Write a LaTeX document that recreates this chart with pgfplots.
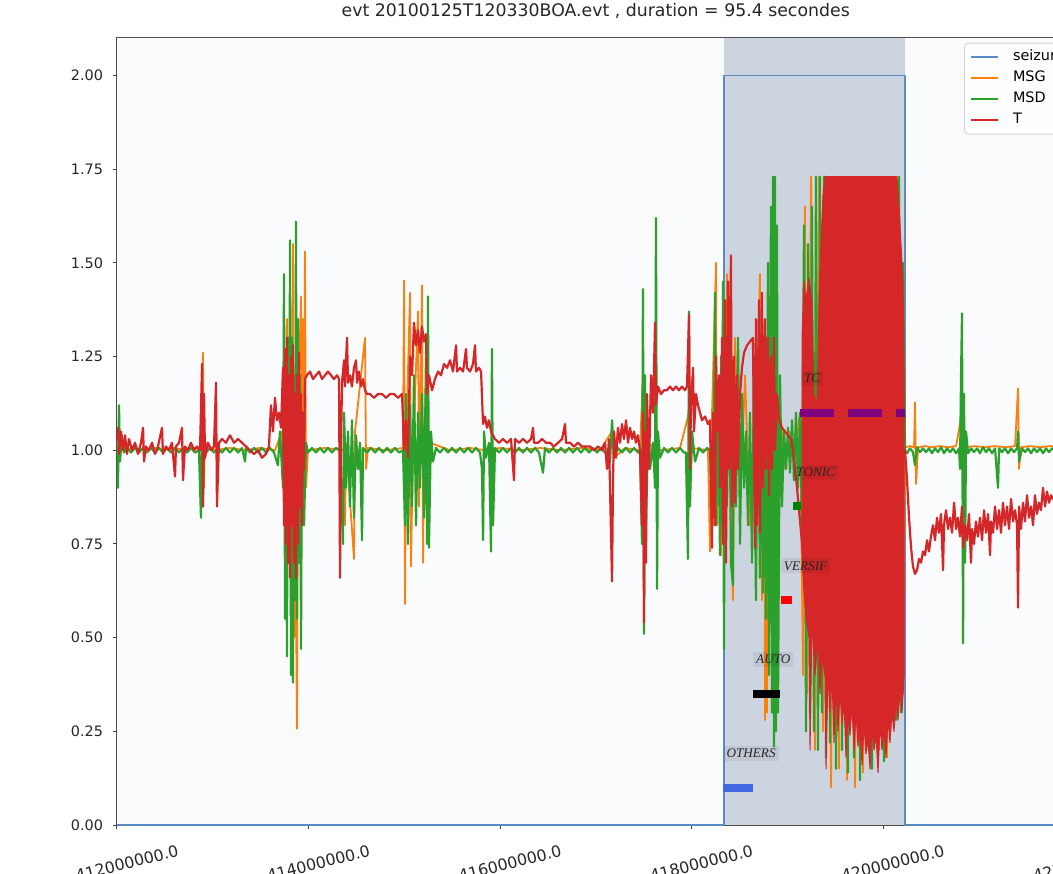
\documentclass[border=0pt]{standalone}
\usepackage{fontspec}
\setmainfont{DejaVu Sans}
\newfontfamily\labfont{Liberation Serif}
\usepackage{pgfplots}
\usepackage{pgfplotstable}
\pgfplotsset{compat=1.18}
\definecolor{tblue}{RGB}{90,140,195}
\definecolor{tshade}{RGB}{204,212,224}
\definecolor{tbg}{RGB}{250,251,253}
\definecolor{torange}{RGB}{255,127,14}
\definecolor{tgreen}{RGB}{44,160,44}
\definecolor{tred}{RGB}{214,39,40}
\definecolor{royal}{RGB}{65,105,225}
\definecolor{vred}{RGB}{255,0,0}
\definecolor{dgreen}{RGB}{0,128,0}
\definecolor{purp}{RGB}{128,0,128}
\begin{document}
\pgfplotstableread{
x y
412.000 1.03
412.010 1.06
412.021 0.99
412.042 1.05
412.063 1.00
412.084 1.04
412.104 0.99
412.125 1.03
412.157 1.00
412.188 1.02
412.219 0.99
412.251 1.02
412.272 1.06
412.282 0.97
412.303 1.01
412.334 1.00
412.366 1.02
412.397 0.99
412.428 1.01
412.470 1.06
412.480 0.99
412.512 1.01
412.543 1.00
412.574 1.02
412.606 0.93
412.616 1.01
412.648 1.02
412.679 1.06
412.689 0.92
412.710 1.01
412.742 1.00
412.773 1.02
412.804 1.00
412.836 1.01
412.867 1.00
412.888 1.23
412.898 0.85
412.909 1.15
412.919 0.98
412.950 1.02
412.982 1.00
413.013 1.01
413.034 1.18
413.044 0.85
413.065 1.02
413.097 1.03
413.138 1.02
413.180 1.04
413.222 1.02
413.264 1.03
413.306 1.02
413.347 1.01
413.389 1.00
413.431 0.99
413.473 1.00
413.514 0.98
413.556 0.99
413.587 1.01
413.608 1.12
413.629 1.05
413.650 1.14
413.671 1.08
413.692 1.10
413.713 1.06
413.734 1.22
413.744 0.80
413.755 1.27
413.765 0.75
413.775 1.30
413.786 0.70
413.796 1.20
413.807 0.66
413.817 1.25
413.828 0.80
413.838 1.28
413.849 0.70
413.859 1.15
413.869 0.66
413.880 1.20
413.890 0.75
413.901 1.26
413.911 0.85
413.922 1.15
413.932 0.80
413.943 1.10
413.953 0.95
413.963 1.19
413.984 1.20
414.016 1.21
414.047 1.19
414.078 1.20
414.110 1.21
414.141 1.19
414.172 1.20
414.204 1.21
414.235 1.20
414.266 1.19
414.298 1.20
414.319 1.19
414.329 0.66
414.340 1.02
414.350 1.18
414.371 1.24
414.381 1.17
414.402 1.30
414.413 1.18
414.433 1.20
414.454 1.17
414.475 1.22
414.496 1.24
414.507 1.18
414.527 1.21
414.548 1.17
414.569 1.19
414.590 1.16
414.611 1.15
414.642 1.15
414.684 1.14
414.726 1.15
414.768 1.15
414.809 1.14
414.851 1.15
414.893 1.15
414.935 1.14
414.977 1.15
414.998 1.00
415.018 1.08
415.039 0.98
415.060 1.25
415.081 1.20
415.102 1.34
415.123 1.28
415.144 1.32
415.164 1.26
415.185 1.33
415.206 1.29
415.227 1.31
415.238 1.15
415.258 1.20
415.290 1.16
415.321 1.19
415.353 1.21
415.384 1.20
415.415 1.23
415.447 1.22
415.478 1.24
415.509 1.21
415.541 1.28
415.551 1.21
415.582 1.22
415.614 1.21
415.645 1.27
415.655 1.22
415.687 1.21
415.718 1.23
415.739 1.28
415.749 1.21
415.781 1.22
415.802 1.21
415.823 1.07
415.843 1.09
415.864 1.06
415.885 1.08
415.906 1.05
415.927 1.04
415.948 1.03
415.990 1.02
416.031 1.03
416.073 1.02
416.115 1.03
416.146 0.92
416.157 1.03
416.198 1.02
416.240 1.03
416.282 1.02
416.324 1.03
416.345 1.06
416.355 1.02
416.397 1.02
416.439 1.03
416.480 1.02
416.522 1.02
416.564 1.01
416.606 1.02
416.648 1.03
416.679 1.07
416.689 1.02
416.731 1.02
416.773 1.01
416.815 1.02
416.856 1.01
416.898 1.01
416.940 1.01
416.982 1.00
417.024 1.01
417.065 1.00
417.097 1.02
417.117 0.95
417.138 1.03
417.159 0.78
417.170 0.65
417.180 0.92
417.191 1.05
417.211 0.98
417.232 1.06
417.253 1.02
417.274 1.07
417.295 1.03
417.316 1.08
417.337 1.02
417.358 1.06
417.379 1.03
417.400 1.05
417.420 1.02
417.441 1.04
417.462 1.00
417.483 0.80
417.493 1.10
417.504 0.54
417.514 1.05
417.525 0.70
417.535 1.15
417.556 0.95
417.577 1.20
417.598 1.10
417.619 1.34
417.629 1.12
417.650 1.17
417.682 1.15
417.713 1.16
417.744 1.16
417.775 1.17
417.807 1.16
417.838 1.17
417.869 1.16
417.901 1.17
417.932 1.16
417.953 1.17
417.974 1.36
417.984 0.95
417.995 1.12
418.016 1.22
418.026 1.05
418.047 1.15
418.068 1.12
418.089 1.10
418.110 1.08
418.141 1.09
418.172 1.07
418.193 1.08
418.214 0.74
418.225 1.10
418.245 0.80
418.256 1.25
418.266 1.05
418.287 1.20
418.298 0.90
418.319 1.30
418.329 0.75
418.350 1.40
418.360 0.70
418.381 1.45
418.392 0.95
418.412 1.52
418.423 0.85
418.444 1.25
418.454 0.86
418.475 1.20
418.486 0.95
418.507 1.15
418.527 1.22
418.548 1.26
418.580 1.28
418.611 1.29
418.642 1.30
418.663 0.74
418.673 1.35
418.684 0.80
418.705 1.40
418.715 0.78
418.736 1.42
418.747 0.90
418.768 1.35
418.778 0.95
418.799 1.30
418.809 0.88
418.830 1.25
418.841 0.95
418.862 1.30
418.872 1.00
418.893 1.15
418.914 1.08
418.945 1.06
418.977 1.05
419.008 1.04
419.039 1.03
419.060 1.00
419.081 0.95
419.102 0.90
419.123 0.84
419.144 0.78
419.165 0.72
420.230 1.00
420.251 0.92
420.272 0.82
420.293 0.74
420.313 0.69
420.334 0.67
420.355 0.68
420.376 0.71
420.397 0.70
420.418 0.73
420.439 0.72
420.460 0.76
420.480 0.73
420.501 0.77
420.522 0.80
420.543 0.76
420.564 0.82
420.585 0.78
420.606 0.83
420.627 0.68
420.637 0.80
420.658 0.84
420.679 0.79
420.700 0.82
420.721 0.78
420.742 0.86
420.763 0.79
420.783 0.82
420.804 0.77
420.825 0.85
420.836 0.74
420.857 0.80
420.877 0.76
420.898 0.83
420.919 0.70
420.930 0.79
420.950 0.75
420.971 0.81
420.992 0.77
421.013 0.82
421.034 0.76
421.055 0.84
421.076 0.78
421.097 0.83
421.118 0.72
421.128 0.81
421.149 0.78
421.170 0.85
421.191 0.79
421.212 0.84
421.232 0.78
421.253 0.86
421.274 0.80
421.295 0.85
421.316 0.79
421.337 0.87
421.358 0.81
421.379 0.84
421.400 0.80
421.410 0.58
421.421 0.85
421.441 0.79
421.462 0.86
421.483 0.81
421.504 0.88
421.525 0.82
421.546 0.85
421.567 0.80
421.587 0.88
421.608 0.83
421.629 0.86
421.650 0.84
421.671 0.90
421.692 0.85
421.713 0.89
421.734 0.86
421.755 0.88
421.776 0.87
421.849 0.89
421.953 0.88
421.995 0.89
}\Tdata
\pgfplotstableread{
x y
419.154 0.72
419.154 1.30
419.175 1.45
419.196 1.40
419.227 1.46
419.258 1.40
419.279 1.15
419.311 1.12
419.332 1.40
419.352 1.55
419.373 1.68
419.394 1.73
420.146 1.73
420.167 1.65
420.188 1.55
420.209 1.45
420.220 1.20
420.220 0.40
420.199 0.30
420.178 0.36
420.157 0.28
420.136 0.33
420.115 0.25
420.094 0.30
420.073 0.22
420.052 0.28
420.031 0.18
420.010 0.26
419.990 0.20
419.969 0.27
419.948 0.14
419.927 0.24
419.906 0.20
419.885 0.26
419.864 0.15
419.843 0.23
419.822 0.19
419.802 0.27
419.781 0.16
419.760 0.25
419.739 0.21
419.718 0.30
419.697 0.20
419.676 0.32
419.655 0.24
419.634 0.30
419.614 0.18
419.593 0.33
419.572 0.27
419.551 0.36
419.530 0.25
419.509 0.38
419.488 0.22
419.467 0.40
419.446 0.30
419.426 0.42
419.405 0.15
419.394 0.40
419.363 0.45
419.342 0.35
419.321 0.50
419.290 0.40
419.258 0.55
419.238 0.20
419.227 0.50
419.196 0.55
419.175 0.62
419.154 0.72
}\Tblock
\pgfplotstableread{
x y
412.000 1.00
412.010 0.90
412.021 1.12
412.031 0.97
412.052 1.04
412.073 0.994
412.104 1.006
412.146 0.994
412.188 1.006
412.230 0.994
412.272 1.006
412.313 0.994
412.355 1.006
412.397 0.994
412.439 1.006
412.480 0.994
412.522 1.006
412.564 0.994
412.606 1.006
412.648 0.994
412.689 1.006
412.731 0.994
412.773 1.006
412.815 0.994
412.856 1.00
412.877 0.82
412.888 1.10
412.898 0.85
412.909 1.05
412.930 0.994
412.971 1.006
413.013 0.994
413.055 1.006
413.097 0.994
413.138 1.006
413.180 0.994
413.222 1.006
413.264 0.994
413.306 1.006
413.337 0.97
413.347 1.006
413.389 0.994
413.431 1.006
413.473 0.994
413.514 1.006
413.556 0.994
413.598 1.006
413.640 0.994
413.681 0.96
413.702 1.05
413.734 0.90
413.744 1.47
413.755 0.55
413.765 1.25
413.775 0.45
413.786 1.30
413.796 0.70
413.807 1.56
413.817 0.40
413.828 1.30
413.838 0.38
413.849 1.20
413.859 0.60
413.869 1.61
413.880 0.55
413.890 1.35
413.901 0.70
413.911 1.20
413.922 0.47
413.932 1.10
413.953 0.80
413.974 1.02
413.995 0.994
414.037 1.006
414.078 0.994
414.120 1.006
414.162 0.994
414.204 1.006
414.245 0.994
414.287 1.006
414.329 1.00
414.360 0.75
414.371 1.10
414.392 0.90
414.413 1.05
414.433 0.85
414.454 1.08
414.475 0.82
414.496 1.04
414.517 0.95
414.538 1.02
414.559 0.76
414.569 1.006
414.611 0.994
414.653 1.006
414.695 0.994
414.736 1.006
414.778 0.994
414.820 1.006
414.862 0.994
414.903 1.006
414.945 0.994
414.987 1.00
415.008 0.80
415.018 1.15
415.039 0.75
415.060 1.12
415.081 0.85
415.102 1.20
415.123 0.80
415.144 1.10
415.164 0.90
415.185 1.15
415.206 0.82
415.227 1.25
415.238 0.75
415.248 1.41
415.258 0.74
415.279 1.05
415.300 0.97
415.332 1.006
415.373 0.994
415.415 1.006
415.457 0.994
415.499 1.006
415.541 0.994
415.582 1.006
415.624 0.994
415.666 1.006
415.708 0.994
415.749 1.006
415.791 0.994
415.812 0.95
415.823 0.76
415.833 1.05
415.854 0.98
415.885 1.02
415.906 0.73
415.916 1.27
415.927 0.80
415.948 1.006
415.990 0.994
416.031 1.006
416.073 0.994
416.115 1.006
416.157 0.994
416.198 1.006
416.240 0.994
416.282 1.006
416.324 0.994
416.366 1.006
416.407 0.994
416.449 0.94
416.470 1.006
416.512 0.994
416.554 1.006
416.595 0.994
416.637 1.006
416.679 0.994
416.721 1.006
416.762 0.994
416.804 1.006
416.846 0.994
416.888 1.006
416.930 0.994
416.971 1.006
417.013 0.994
417.055 1.006
417.097 0.994
417.149 0.97
417.170 1.08
417.191 0.98
417.232 1.006
417.274 0.994
417.316 1.006
417.358 0.994
417.400 1.006
417.441 0.994
417.462 1.00
417.483 0.75
417.493 1.43
417.504 0.51
417.514 1.20
417.525 0.80
417.546 1.05
417.567 0.95
417.598 1.02
417.619 0.90
417.629 1.62
417.640 0.63
417.650 1.05
417.671 0.98
417.713 1.006
417.754 0.994
417.796 1.006
417.838 0.994
417.880 1.006
417.921 0.994
417.942 0.994
417.963 0.71
417.974 1.37
417.984 0.85
418.005 1.05
418.037 0.97
418.078 1.006
418.120 0.994
418.162 1.006
418.193 1.00
418.214 0.80
418.235 1.05
418.245 1.42
418.256 0.80
418.277 1.10
418.298 0.72
418.308 1.25
418.319 0.80
418.329 1.45
418.339 0.47
418.350 1.20
418.371 0.85
418.392 1.30
418.412 0.70
418.433 0.64
418.444 1.20
418.465 0.85
418.486 1.30
418.507 0.75
418.527 1.15
418.548 0.90
418.569 1.05
418.590 0.80
418.611 1.10
418.632 0.70
418.653 1.25
418.673 0.60
418.694 1.20
418.715 0.66
418.736 1.35
418.747 0.62
418.768 1.30
418.778 0.55
418.799 1.50
418.809 0.40
418.830 1.65
418.841 0.30
418.851 1.73
418.862 0.21
418.872 1.73
418.882 0.25
418.893 1.60
418.903 0.30
418.924 1.20
418.945 0.85
418.966 1.05
418.987 0.95
419.008 1.06
419.029 0.94
419.050 1.08
419.070 0.92
419.091 1.10
419.112 0.90
419.133 1.10
419.154 0.80
419.175 1.60
419.196 0.25
419.217 1.55
419.238 0.30
419.258 1.65
419.279 0.25
419.300 1.73
419.321 0.20
419.342 1.73
419.363 0.30
419.384 1.73
419.405 0.18
419.426 1.70
419.446 0.22
419.478 1.73
419.509 0.15
419.540 1.73
419.572 0.20
419.603 1.70
419.634 0.14
419.666 1.73
419.697 0.18
419.728 1.73
419.760 0.12
419.791 1.73
419.822 0.20
419.854 1.65
419.885 0.15
419.916 1.73
419.948 0.22
419.979 1.73
420.010 0.17
420.042 1.70
420.073 0.25
420.104 1.73
420.136 0.28
420.167 1.73
420.188 0.30
420.209 1.50
420.230 1.00
420.251 0.992
420.282 1.005
420.313 0.995
420.334 0.96
420.355 1.008
420.386 0.995
420.418 1.005
420.449 0.995
420.480 1.005
420.512 0.992
420.543 1.005
420.574 0.995
420.606 1.008
420.637 0.992
420.668 1.005
420.700 0.995
420.731 1.005
420.763 0.992
420.794 1.005
420.804 0.95
420.815 1.20
420.825 1.365
420.836 0.485
420.846 1.15
420.857 0.70
420.867 1.05
420.888 0.992
420.919 1.005
420.950 0.995
420.982 1.005
421.013 0.992
421.044 1.008
421.076 0.995
421.107 1.005
421.139 0.992
421.170 1.005
421.201 0.90
421.212 1.005
421.243 0.995
421.274 1.005
421.306 0.992
421.337 1.005
421.368 0.995
421.400 1.005
421.410 1.05
421.421 0.97
421.452 1.005
421.483 0.995
421.515 1.005
421.546 0.992
421.577 1.005
421.608 0.995
421.640 1.005
421.671 0.992
421.702 1.005
421.734 0.995
421.765 1.005
421.849 0.995
421.995 1.00
}\Gdata
\pgfplotstableread{
x y
412.000 1.01
412.021 0.97
412.042 1.04
412.084 1.00
412.188 1.006
412.292 1.00
412.397 1.006
412.501 1.00
412.606 1.006
412.710 1.00
412.815 1.006
412.877 1.00
412.898 1.26
412.909 0.90
412.919 1.02
413.023 1.00
413.180 1.006
413.337 1.00
413.494 1.006
413.650 1.00
413.723 1.05
413.755 0.80
413.775 1.35
413.796 0.75
413.807 1.45
413.817 0.60
413.838 1.55
413.849 0.50
413.869 0.60
413.880 0.257
413.890 1.10
413.922 1.41
413.932 0.80
413.943 1.35
413.953 0.85
413.963 1.53
413.974 0.90
413.995 1.00
414.172 1.006
414.371 1.00
414.381 0.80
414.392 1.02
414.475 0.71
414.486 1.05
414.590 1.30
414.601 0.95
414.622 1.006
414.799 1.00
414.987 1.006
414.998 1.453
415.008 0.59
415.018 1.00
415.060 1.42
415.070 0.69
415.091 1.00
415.144 1.37
415.154 0.85
415.185 1.44
415.196 0.70
415.206 1.00
415.238 1.30
415.248 0.80
415.269 1.02
415.478 1.00
415.687 1.006
415.843 1.00
416.000 1.006
416.209 1.00
416.418 1.006
416.627 1.00
416.836 1.006
417.044 1.00
417.170 1.05
417.191 0.98
417.305 1.006
417.462 1.00
417.493 1.20
417.504 0.70
417.525 1.02
417.671 1.00
417.880 1.006
417.974 1.10
417.984 0.90
418.005 1.006
418.172 1.00
418.193 0.73
418.204 1.00
418.256 1.50
418.266 0.80
418.287 1.10
418.308 0.72
418.329 1.40
418.350 0.85
418.371 1.47
418.402 1.20
418.433 0.60
418.454 1.30
418.507 0.85
418.559 1.20
418.611 0.80
418.684 1.10
418.715 1.47
418.736 0.60
418.757 1.30
418.768 0.28
418.778 1.20
418.789 0.30
418.799 1.30
418.820 0.60
418.841 1.40
418.862 0.70
418.882 1.60
418.903 0.80
418.924 1.10
418.977 0.95
419.029 1.05
419.081 1.00
419.133 1.10
419.165 0.40
419.185 1.65
419.206 0.35
419.248 1.73
419.290 0.20
419.332 1.73
419.373 0.25
419.415 1.73
419.457 0.10
419.499 1.73
419.540 0.15
419.582 1.73
419.624 0.12
419.666 1.73
419.708 0.10
419.749 1.73
419.791 0.14
419.833 1.73
419.875 0.15
419.916 1.73
419.958 0.20
420.000 1.73
420.042 0.18
420.084 1.73
420.125 0.30
420.167 1.73
420.209 0.35
420.230 1.008
420.282 1.011
420.324 1.007
420.334 1.128
420.345 0.91
420.366 1.008
420.439 1.011
420.512 1.008
420.595 1.011
420.679 1.008
420.763 1.011
420.825 1.10
420.836 0.95
420.857 1.008
420.961 1.011
421.065 1.008
421.170 1.011
421.274 1.008
421.379 1.011
421.410 1.165
421.421 0.95
421.441 1.008
421.535 1.011
421.640 1.008
421.744 1.011
421.995 1.008
}\Odata
\begin{tikzpicture}
\begin{axis}[
  scale only axis,
  width=478.75pt, height=393.5pt,
  xmin=412, xmax=422, ymin=0, ymax=2.1,
  axis background/.style={fill=tbg},
  xtick={412,414,416,418,420,422},
  xticklabels={412000000.0,414000000.0,416000000.0,418000000.0,420000000.0,422000000.0},
  ytick={0,0.25,0.5,0.75,1,1.25,1.5,1.75,2},
  yticklabels={0.00,0.25,0.50,0.75,1.00,1.25,1.50,1.75,2.00},
  /pgf/number format/assume math mode=true,
  tick pos=left,
  tick align=outside,
  major tick length=2pt,
  tick style={black!75, line width=0.5pt},
  axis line style={black!70, line width=0.5pt},
  ticklabel style={font=\fontsize{7.2}{8.6}\selectfont, text=black!85},
  xticklabel style={font=\fontsize{7.9}{9}\selectfont, rotate=14, anchor=center, xshift=0.65pt, yshift=-17.8pt},
  yticklabel style={xshift=-1.5pt},
  title={evt 20100125T120330BOA.evt , duration = 95.4 secondes},
  title style={font=\fontsize{8.66}{10}\selectfont, text=black!85, at={(0.5,1)}, anchor=base, yshift=4.5pt},
  legend image code/.code={\draw[#1, line width=0.8pt] (0pt,0pt) -- (13.5pt,0pt);},
  legend cell align=left,
  legend style={at={(0.8846,0.994)}, anchor=north west, draw=black!18, fill=white,
    fill opacity=0.8, text opacity=1, rounded corners=2pt,
    font=\fontsize{7.2}{8.6}\selectfont, inner xsep=3pt, inner ysep=2pt, row sep=0.5pt,
    nodes={inner sep=1.5pt, text height=5.4pt, text depth=1.6pt},
    /tikz/every odd column/.style={column sep=5.5pt}},
  every axis plot/.append style={line join=round},
]
% seizure shading
\addplot[fill=tshade, draw=none, forget plot] coordinates {(418.339,2.1) (420.230,2.1)} \closedcycle;
% seizure indicator
\addplot[color=tblue, line width=0.6pt] coordinates {(412,0) (418.339,0) (418.339,2.0) (420.230,2.0) (420.230,0) (422,0)};
\addlegendentry{seizure}
\addplot[color=torange, line width=0.9pt] table[x=x,y=y] {\Odata};
\addlegendentry{MSG}
\addplot[color=tgreen, line width=1.1pt] table[x=x,y=y] {\Gdata};
\addlegendentry{MSD}
\addplot[fill=tred, draw=tred, line width=0.5pt, forget plot] table[x=x,y=y] {\Tblock};
\addplot[color=tred, line width=1.1pt] table[x=x,y=y] {\Tdata};
\addlegendentry{T}
% event bars
\addplot[royal, line width=4pt, forget plot] coordinates {(418.33,0.1) (418.64,0.1)};
\addplot[black, line width=4pt, forget plot] coordinates {(418.64,0.35) (418.92,0.35)};
\addplot[vred, line width=4pt, forget plot] coordinates {(418.93,0.6) (419.05,0.6)};
\addplot[dgreen, line width=4pt, forget plot] coordinates {(419.06,0.85) (419.14,0.85)};
\addplot[purp, line width=4pt, dash pattern=on 17pt off 7pt, forget plot] coordinates {(419.13,1.1) (420.23,1.1)};
\tikzset{evlab/.style={anchor=base west, font=\labfont\itshape\fontsize{6.6}{7.5}\selectfont, text=black!85, fill=black, fill opacity=0.06, text opacity=1, inner sep=1.5pt}}
\node[evlab] at (axis cs:418.33,0.18) {OTHERS};
\node[evlab] at (axis cs:418.64,0.43) {AUTO};
\node[evlab] at (axis cs:418.93,0.68) {VERSIF};
\node[evlab] at (axis cs:419.06,0.93) {TONIC};
\node[evlab] at (axis cs:419.14,1.18) {TC};
\end{axis}
\pgfresetboundingbox
\path[use as bounding box] (-58.5pt,-24pt) rectangle (468pt,412.5pt);
\end{tikzpicture}
\end{document}
